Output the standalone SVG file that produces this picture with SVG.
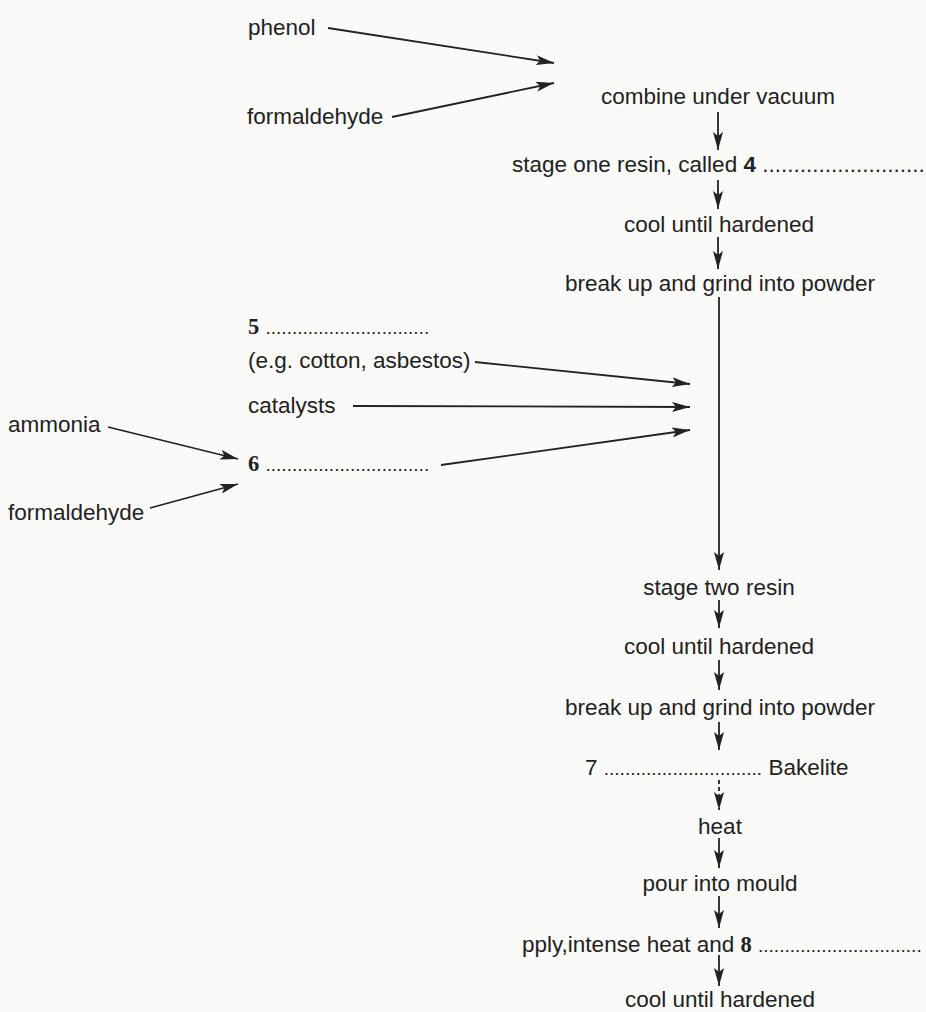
<svg xmlns="http://www.w3.org/2000/svg" width="926" height="1012" viewBox="0 0 926 1012">
<defs>
<marker id="ah" viewBox="0 0 18 10" refX="18" refY="5" markerWidth="18" markerHeight="10" markerUnits="userSpaceOnUse" orient="auto">
<path d="M0,0 L18,5 L0,10 L4,5 Z" fill="#222"/>
</marker>
<style>
text{font-family:"Liberation Sans",Arial,sans-serif;font-size:22.5px;fill:#222}
.c{text-anchor:middle}
.n{font-family:"Liberation Serif","Times New Roman",serif;font-weight:bold}
.b{font-weight:bold}
.d{font-size:19px}
.ln{stroke:#222;stroke-width:1.8;fill:none;marker-end:url(#ah)}
.dash{stroke-dasharray:4 3}
</style>
</defs>
<rect width="926" height="1012" fill="#fafaf8"/>
<g id="connectors">
<line class="ln" x1="328" y1="28" x2="554" y2="63"/>
<line class="ln" x1="392" y1="117" x2="554" y2="83"/>
<line class="ln" x1="718" y1="112" x2="718" y2="150"/>
<line class="ln" x1="718" y1="180" x2="718" y2="209"/>
<line class="ln" x1="718" y1="237" x2="718" y2="269"/>
<line class="ln" x1="719" y1="297" x2="719" y2="570"/>
<line class="ln" x1="475" y1="362" x2="690" y2="384"/>
<line class="ln" x1="353" y1="406" x2="690" y2="407"/>
<line class="ln" x1="441" y1="465" x2="690" y2="430"/>
<line class="ln" x1="108" y1="427" x2="238" y2="459"/>
<line class="ln" x1="150" y1="508" x2="238" y2="484"/>
<line class="ln" x1="719" y1="600" x2="719" y2="628"/>
<line class="ln" x1="719" y1="660" x2="719" y2="690"/>
<line class="ln" x1="719" y1="722" x2="719" y2="750"/>
<line class="ln dash" x1="719" y1="780" x2="719" y2="810"/>
<line class="ln" x1="719" y1="838" x2="719" y2="868"/>
<line class="ln" x1="719" y1="896" x2="719" y2="928"/>
<line class="ln" x1="719" y1="955" x2="719" y2="986"/>
</g>
<g id="phenol"><text x="248" y="35">phenol</text></g>
<g id="formaldehyde1"><text x="247" y="124">formaldehyde</text></g>
<g id="combine"><text class="c" x="718" y="104">combine under vacuum</text></g>
<g id="stage-one"><text x="512" y="172">stage one resin, called <tspan class="b">4</tspan> ..........................</text></g>
<g id="cool1"><text class="c" x="719" y="232">cool until hardened</text></g>
<g id="grind1"><text class="c" x="720" y="291">break up and grind into powder</text></g>
<g id="blank5"><text x="248" y="334"><tspan class="n">5</tspan> <tspan class="d">...............................</tspan></text></g>
<g id="eg"><text x="248" y="368">(e.g. cotton, asbestos)</text></g>
<g id="catalysts"><text x="248" y="413">catalysts</text></g>
<g id="ammonia"><text x="8" y="432">ammonia</text></g>
<g id="blank6"><text x="248" y="471"><tspan class="n">6</tspan> <tspan class="d">...............................</tspan></text></g>
<g id="formaldehyde2"><text x="8" y="520">formaldehyde</text></g>
<g id="stage-two"><text class="c" x="719" y="595">stage two resin</text></g>
<g id="cool2"><text class="c" x="719" y="654">cool until hardened</text></g>
<g id="grind2"><text class="c" x="720" y="715">break up and grind into powder</text></g>
<g id="bakelite"><text x="585" y="775">7 <tspan class="d">..............................</tspan> Bakelite</text></g>
<g id="heat"><text class="c" x="720" y="834">heat</text></g>
<g id="pour"><text class="c" x="720" y="891">pour into mould</text></g>
<g id="apply"><text x="522" y="952">pply,intense heat and <tspan class="n">8</tspan> <tspan class="d">...............................</tspan></text></g>
<g id="cool3"><text class="c" x="720" y="1007">cool until hardened</text></g>
</svg>
